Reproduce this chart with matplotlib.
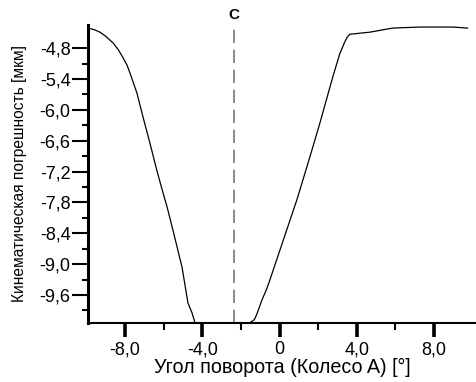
import matplotlib.pyplot as plt
from matplotlib.ticker import FixedLocator, FuncFormatter

# угол поворота колеса A, градусы
angle = [-9.92, -9.6, -9.3, -9.0, -8.62, -8.35, -8.10, -7.90, -7.74, -7.38,
         -7.07, -6.71, -6.36, -6.03, -5.83, -5.52, -5.05, -4.74, -4.53, -4.38,
         -3.5, -2.5, -1.53, -1.30, -1.17, -0.91, -0.65, -0.50, 0.90, 1.57,
         2.09, 2.76, 3.13, 3.38, 3.52, 3.64, 4.67, 5.86, 7.26, 8.97, 9.74]
# кинематическая погрешность, мкм
error = [-4.41, -4.44, -4.49, -4.57, -4.70, -4.83, -4.99, -5.13, -5.29, -5.68,
         -6.14, -6.65, -7.17, -7.62, -7.88, -8.34, -9.06, -9.76, -9.95, -10.14,
         -10.14, -10.14, -10.14, -10.08, -9.97, -9.70, -9.47, -9.31, -7.75, -6.92,
         -6.26, -5.36, -4.90, -4.68, -4.58, -4.53, -4.49, -4.41, -4.39, -4.39, -4.41]

c_pos = -2.36
x_major = [-8, -4, 0, 4, 8]
x_minor = [-6, -2, 2, 6]
y_major = [-4.8, -5.4, -6.0, -6.6, -7.2, -7.8, -8.4, -9.0, -9.6]
y_minor = [-5.1, -5.7, -6.3, -6.9, -7.5, -8.1, -8.7, -9.3, -9.9]

plt.rcParams['font.family'] = ['Liberation Sans', 'DejaVu Sans']

fig = plt.figure(figsize=(4.77, 3.82), dpi=100)
ax = fig.add_axes([88 / 477, 1 - 323 / 382, 1 - 88 / 477, (323 - 25) / 382])

ax.plot(angle, error, color='black', lw=0.9, clip_on=False)
ax.axvline(c_pos, color='#777777', lw=1.2, dashes=(8, 4))
ax.text(c_pos, 1.035, 'C', transform=ax.get_xaxis_transform(), ha='center',
        va='center', fontsize=11, fontweight='bold')

ax.set_xlim(-9.92, 10.23)
ax.set_ylim(-10.146, -4.35)

ax.spines['top'].set_visible(False)
ax.spines['right'].set_visible(False)
ax.spines['left'].set_linewidth(2.2)
ax.spines['bottom'].set_linewidth(1.5)

ax.xaxis.set_major_locator(FixedLocator(x_major))
ax.xaxis.set_minor_locator(FixedLocator(x_minor))
ax.yaxis.set_major_locator(FixedLocator(y_major))
ax.yaxis.set_minor_locator(FixedLocator(y_minor))

comma = FuncFormatter(lambda v, p: '0' if abs(v) < 1e-9 else f'{v:.1f}'.replace('.', ','))
ax.xaxis.set_major_formatter(comma)
ax.yaxis.set_major_formatter(comma)

ax.tick_params(axis='x', which='major', length=10, width=2.6, labelsize=13, pad=3)
ax.tick_params(axis='x', which='minor', length=5, width=1.5)
ax.tick_params(axis='y', which='major', length=11.5, width=1.5, labelsize=13, pad=1)
ax.tick_params(axis='y', which='minor', length=4.5, width=1.5)

ax.set_xlabel('Угол поворота (Колесо A) [°]', fontsize=14.2, labelpad=0)
ax.set_ylabel('Кинематическая погрешность [мкм]', fontsize=11.2, labelpad=9)

fig.savefig('out.png', dpi=100)
